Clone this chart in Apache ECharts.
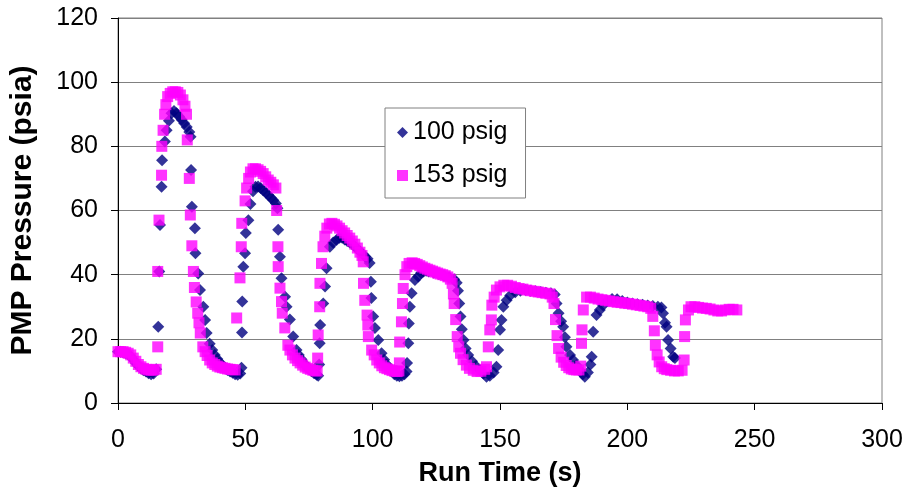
<!DOCTYPE html>
<html><head><meta charset="utf-8">
<script src="https://cdn.jsdelivr.net/npm/echarts@6/dist/echarts.min.js"></script>
<style>html,body{margin:0;padding:0;background:#fff;}#c{width:909px;height:498px;}</style>
</head><body><div id="c"></div>
<script>
// Series names
const seriesNames = ['100 psig', '153 psig'];

// 100 psig: run time (s) and PMP pressure (psia)
const t100 = [0,1,2,3,4,5,6,7,8,9,10,11,12,13,14,15,15.8,16.2,16.5,17.1,17.3,18.4,19.1,20,21,22,23,24,25,26,27,28,28.5,28.7,29,30.2,30.4,31.5,32.2,33.5,34.2,34.8,36,37,38,39,40,41,42,43,44,45,46,47,48,
48.5,48.7,48.8,49.2,49.9,50.2,51.2,52,53,54,55,56,57,58,59,60,61,62,62.6,62.9,63.6,64.2,65.6,66.2,67.5,68.8,70.1,71,72,73,74,75,76,77,78,78.6,
79,79.2,79.4,80.6,81.3,81.9,83.2,84.5,85.8,87,88,89,90,91,92,93,94,95,96,97,98,98.8,99.3,99.5,100.2,100.9,102.2,103.5,104.5,105.5,106.5,107.5,108.5,109.5,110.5,111.5,112.5,113.3,
113.5,114,114.2,114.6,115.3,116.6,117.9,119,120,121,122,124,126,128,130,132,133,133.5,134,134.5,135,135.7,136.5,137.5,139,140.5,142,143.5,144.7,146,147.5,
148.6,149.3,150,150.6,151.3,152.6,154,156,158,160,162,164,166,168,170,171.5,172.2,173,174,174.8,175.5,176.1,177.5,178.7,180,181.3,182.5,183.3,184.5,
185.5,186,186.6,187.9,189.2,190.5,192,194,196,198,200,202,204,206,208,210,212,213.4,214,214.8,215.4,216,217,218,218.7];
const p100 = [16,16,15.8,15.5,15.2,14.5,13.5,12.5,11.5,10.8,10.2,9.8,9.3,9,9.2,10.5,23.8,41,55.5,67.4,75.7,81.5,85,88,90.3,91,90.3,89.3,88.3,87.2,86,84.5,83,72.6,61.2,54.5,46.7,40.4,35.2,30,25.9,21.8,18.5,16.5,15,13.7,12.6,11.7,11,10.3,9.8,9.4,9,8.8,9.2,
11,22,31.6,42.5,46.7,53,57,62,66,67.4,67.5,67,66.3,65.6,64.8,64,63.2,62.2,60.7,54,45.6,38.9,33.1,30,26,20.7,16.5,15,13.6,12.4,11.4,10.6,9.9,9.3,8.8,8.5,
12,18.6,24.3,31,36.3,42,48.7,50,50.8,51.5,51.5,51,50.5,50,49.5,48.8,48,47.3,46.5,45.7,45,43.6,37.8,32.7,27,23.4,19.6,15.5,13.5,12,11,10,9,8.5,8.3,8.5,9,9.8,
12.5,18.6,24.8,30,34.2,38.3,39.4,40.5,41,41.2,41,40.6,40.2,39.7,39.2,38.6,37.5,35,31,27,23,19.6,17,15,13,11.5,10.3,9.2,8.2,8.5,9.5,
11.3,16.5,22.8,25.9,30,32,33.5,34.5,35,35.2,35,34.8,34.6,34.4,34.2,33.8,31,28,25.5,23.8,20.5,17.5,15,13.4,11.8,10.3,9,8.2,9.5,
12,14.4,22.2,27.4,29,30.5,31.8,32.4,32.3,31.8,31.3,31,30.8,30.6,30.4,30.2,30,29.8,28,25,23.8,19.6,17,14.4,14];

// 153 psig: run time (s) and PMP pressure (psia)
const t153 = [0,1,2,3,4,5,6,7,8,9,10,11,12,13,14,15,15.6,15.6,16.1,17.1,17.2,17.7,18.3,18.8,19.5,20.5,21.5,22.5,23.5,24.5,25.5,26.3,26.9,27.2,28,28.4,29,29.6,30,30.7,31.3,31.8,32.3,33.3,34.2,35,36,37,38,39,40,41,42,43,44,45,46,
46.6,47.9,48.4,48.6,49.9,50.5,51.3,52,53,54,55,56,57,58,59,60,61,62,62.3,62.8,62.9,63.6,64.2,64.5,65.5,66.7,67.5,68.5,69.5,70.5,71.5,72.5,73.5,74.5,75.5,76.5,77.5,78.2,
78.4,78.6,79.2,79.3,79.9,80.5,81.2,82,83,84,85,86,87,88,89,90,91,92,93,94,95,95.8,96.3,96.4,96.9,97.8,98.1,98.3,99.6,100.6,101.6,102.6,103.6,104.6,105.6,106.6,107.6,108.6,109.6,110.3,
110.5,110.6,111.3,111.7,112,112.7,113.4,114.3,115.5,116.5,117.5,118.5,119.5,120.5,121.5,122.5,123.5,124.5,125.5,126.5,127.5,128.5,129.5,130.5,131.2,131.7,132,132.6,133.2,133.8,134.5,135.5,136.8,138,139.5,141,142.5,144,144.7,
145.4,146,146.6,146.8,147.7,148.6,150,151.5,153,154.5,156,157.5,159,160.5,162,163.5,165,166.5,168,169.6,170.5,171.2,171.8,172.4,173,174,175,176,177,178,179,180,181,181.7,
182,182.2,182.7,184,185.5,187,188.5,190,191.5,193,194.5,196,197.5,199,200.5,202,203.5,205,206.5,208,209.2,210,210.6,211,211.7,212.5,213.5,214.5,215.5,217,218.5,220,221.5,
222.3,222.5,222.8,224,225,226.5,228,229.5,231,232.5,234,235.5,237,238.5,240,241.5,243];
const p153 = [16,16,16,15.8,15.5,15,14,13,12,11.3,10.8,10.5,10.3,10.2,10.3,10.5,17.5,41,57,71,80,85,90,93,95.5,96.5,97,97,96.8,96,94.5,92.5,90,82,70,58.6,49,41,36,31.5,28,25,21.8,17.5,16,14.8,13.4,12.5,12,11.5,11.2,11,10.8,10.6,10.5,10.4,10.3,
26.5,39,48.7,56,63,67,70,72,73,73,72.7,72.2,71.5,70.5,69.5,68.8,68,67,60,48.7,42.5,35.8,31.6,28,23.4,18,16.5,15,14,13.2,12.5,11.8,11.2,10.8,10.5,10.2,10,10,
14,21.2,30,37.3,43.5,48.7,52,54.5,55.8,56,55.7,55.2,54.5,53.7,53,52.2,51.4,50.5,49.5,48.3,47,46,44,37.3,32,27.4,24.3,20.7,16.5,15,13.4,12.5,11.6,11,10.7,10.4,10.1,9.9,9.8,10,
12.5,19,25.3,31,35.7,40,42.5,43.5,43.7,43.5,43.2,42.8,42.4,42,41.7,41.4,41.1,40.8,40.5,40.2,40,39.7,39.3,38.6,37.3,34,31,26,20.7,17.5,15.5,13.5,11.8,10.8,10.2,9.8,9.9,10.5,11.3,
17.5,22.8,25.9,30.5,33,35.2,36.2,36.7,36.7,36.4,36,35.7,35.5,35.2,35,34.8,34.6,34.4,34.2,34,33,31,26,21,17,14.3,12.7,11.7,11,10.6,10.4,10.3,10.3,11.5,
18.6,22.8,29,33,33,32.7,32.4,32.2,32,31.8,31.6,31.4,31.3,31.1,31,30.8,30.6,30.4,30.2,30,29.5,27,22.5,18,15,12.8,11.3,10.7,10.4,10.2,10,10,10.2,
13.4,20.7,25.9,29,30,30,29.8,29.6,29.5,29.3,29,28.7,28.7,29,29.2,29.2,29];

const FONT = 'Liberation Sans, Arial, sans-serif';
const chart = echarts.init(document.getElementById('c'), null, {renderer: 'canvas'});
chart.setOption({
  animation: false,
  backgroundColor: '#ffffff',
  grid: {left: 118, right: 27, top: 18, bottom: 95, show: true, borderColor: '#808080', borderWidth: 1, backgroundColor: 'transparent'},
  legend: {
    orient: 'vertical', left: 385, top: 108,
    itemWidth: 11, itemHeight: 11, itemGap: 18,
    padding: [12, 18, 10, 12],
    backgroundColor: '#ffffff', borderColor: '#808080', borderWidth: 1,
    selectedMode: false,
    textStyle: {fontFamily: FONT, fontSize: 25, color: '#000'},
    data: [{name: seriesNames[0], icon: 'diamond'}, {name: seriesNames[1], icon: 'rect'}]
  },
  xAxis: {
    type: 'value', min: 0, max: 300, interval: 50,
    name: 'Run Time (s)', nameLocation: 'middle', nameGap: 57,
    nameTextStyle: {fontFamily: FONT, fontWeight: 'bold', fontSize: 27, color: '#000'},
    axisLine: {show: true, onZero: false, lineStyle: {color: '#000', width: 1}},
    axisTick: {show: true, inside: false, length: 7, lineStyle: {color: '#000'}},
    axisLabel: {fontFamily: FONT, fontSize: 25, color: '#000', margin: 25},
    splitLine: {show: false}
  },
  yAxis: {
    type: 'value', min: 0, max: 120, interval: 20,
    name: 'PMP Pressure (psia)', nameLocation: 'middle', nameGap: 80, nameRotate: 90,
    nameTextStyle: {fontFamily: FONT, fontWeight: 'bold', fontSize: 30, color: '#000'},
    axisLine: {show: true, onZero: false, lineStyle: {color: '#000', width: 1}},
    axisTick: {show: true, inside: false, length: 7, lineStyle: {color: '#000'}},
    axisLabel: {fontFamily: FONT, fontSize: 25, color: '#000', margin: 20},
    splitLine: {show: true, lineStyle: {color: '#808080', width: 1}}
  },
  series: [
    {name: seriesNames[0], type: 'scatter', symbol: 'diamond', symbolSize: 12,
     itemStyle: {color: '#000080'}, data: t100.map((t, i) => [t, p100[i]])},
    {name: seriesNames[1], type: 'scatter', symbol: 'rect', symbolSize: 11,
     itemStyle: {color: '#FF00FF'}, data: t153.map((t, i) => [t, p153[i]])}
  ]
});
</script>
</body></html>
